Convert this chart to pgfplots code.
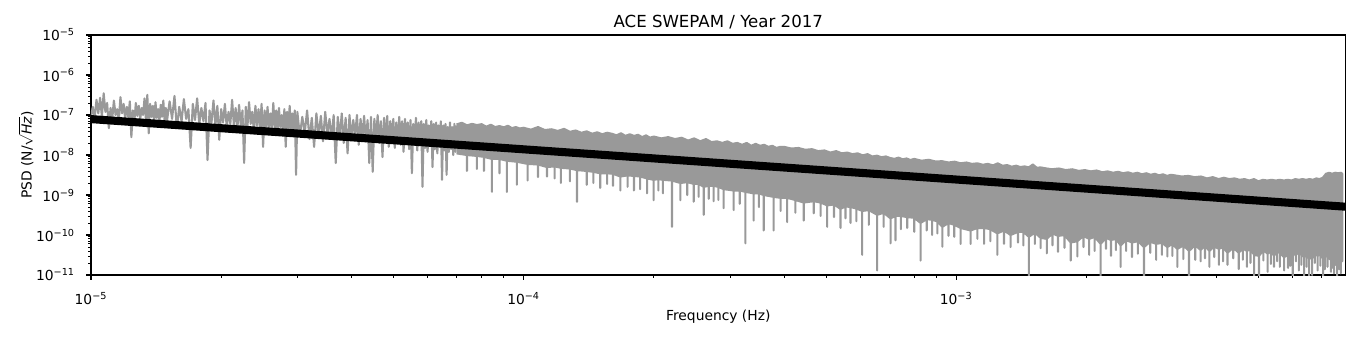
\documentclass[border=0pt]{standalone}
\usepackage{fontspec}
\setmainfont{DejaVu Sans}
\usepackage{pgfplots}
\pgfplotsset{compat=1.18}

\definecolor{psdgray}{RGB}{153,153,153}
\newcommand{\tlab}[1]{10\textsuperscript{−#1}}

\begin{document}
\begin{tikzpicture}
\useasboundingbox (-65.5bp,-45.4bp) rectangle (915.8bp,198bp);
\begin{axis}[
    at={(0,0)}, anchor=south west,
    scale only axis, width=903.3bp, height=172.8bp,
    xmode=log, ymode=log,
    xmin=1e-5, xmax=7.95e-3, ymin=1e-11, ymax=1e-5,
    xtick={1e-5,1e-4,1e-3},
    xticklabels={\tlab{5},\tlab{4},\tlab{3}},
    minor xtick={2e-5,3e-5,4e-5,5e-5,6e-5,7e-5,8e-5,9e-5,
                 2e-4,3e-4,4e-4,5e-4,6e-4,7e-4,8e-4,9e-4,
                 2e-3,3e-3,4e-3,5e-3,6e-3,7e-3},
    ytick={1e-11,1e-10,1e-9,1e-8,1e-7,1e-6,1e-5},
    yticklabels={\tlab{11},\tlab{10},\tlab{9},\tlab{8},\tlab{7},\tlab{6},\tlab{5}},
    minor ytick={2e-11,3e-11,4e-11,5e-11,6e-11,7e-11,8e-11,9e-11,
                 2e-10,3e-10,4e-10,5e-10,6e-10,7e-10,8e-10,9e-10,
                 2e-9,3e-9,4e-9,5e-9,6e-9,7e-9,8e-9,9e-9,
                 2e-8,3e-8,4e-8,5e-8,6e-8,7e-8,8e-8,9e-8,
                 2e-7,3e-7,4e-7,5e-7,6e-7,7e-7,8e-7,9e-7,
                 2e-6,3e-6,4e-6,5e-6,6e-6,7e-6,8e-6,9e-6},
    tick align=outside, tick pos=left,
    major tick length=3.5bp, minor tick length=2bp,
    every tick/.style={black, line width=0.8bp},
    every minor tick/.style={black, line width=0.6bp},
    axis line style={line width=0.8bp},
    xticklabel style={anchor=north, inner sep=0pt, yshift=-8.9bp},
    yticklabel style={anchor=east, inner sep=0pt, xshift=-7.9bp},
    title={ACE SWEPAM / Year 2017},
    every axis title/.style={at={(axis description cs:0.5,1.03125)}, anchor=base, font=\fontsize{12}{14}\selectfont},
    xlabel={Frequency (Hz)},
    xlabel style={at={(axis description cs:0.5,-0.1875)}, anchor=base},
    ylabel={PSD (N/$\sqrt{\textit{Hz}}$)},
    ylabel style={at={(axis description cs:-0.0473,0.5)}, anchor=base},
]

% low-frequency part, individual oscillations still visible
\addplot[psdgray, line width=1.5bp, line join=round] coordinates {
(1.00e-5,9.0e-8) (1.01e-5,1.6e-7) (1.02e-5,8.5e-8) (1.03e-5,2.4e-7) (1.04e-5,1.1e-7)
(1.05e-5,2.7e-7) (1.06e-5,9.0e-8) (1.07e-5,3.5e-7) (1.08e-5,1.2e-7) (1.09e-5,2.0e-7)
(1.10e-5,4.7e-8) (1.11e-5,1.5e-7) (1.12e-5,8.0e-8) (1.13e-5,2.3e-7) (1.14e-5,1.0e-7)
(1.15e-5,1.4e-7) (1.16e-5,7.5e-8) (1.17e-5,2.8e-7) (1.18e-5,1.1e-7) (1.19e-5,1.9e-7)
(1.20e-5,8.0e-8) (1.21e-5,1.6e-7) (1.22e-5,9.0e-8) (1.23e-5,2.2e-7) (1.24e-5,2.8e-8)
(1.25e-5,1.3e-7) (1.26e-5,7.0e-8) (1.27e-5,2.0e-7) (1.28e-5,9.5e-8) (1.29e-5,1.7e-7)
(1.30e-5,8.0e-8) (1.31e-5,1.5e-7) (1.32e-5,1.0e-7) (1.33e-5,2.6e-7) (1.34e-5,7.5e-8)
(1.35e-5,3.2e-7) (1.36e-5,3.5e-8) (1.37e-5,1.9e-7) (1.38e-5,9.0e-8) (1.39e-5,1.7e-7)
(1.40e-5,6.5e-8) (1.41e-5,2.1e-7) (1.42e-5,8.5e-8) (1.43e-5,1.4e-7) (1.44e-5,7.0e-8)
(1.45e-5,1.8e-7) (1.46e-5,9.0e-8) (1.47e-5,2.3e-7) (1.48e-5,7.0e-8) (1.49e-5,1.5e-7)
(1.50e-5,7.5e-8) (1.52e-5,2.2e-7) (1.54e-5,8.0e-8) (1.56e-5,3.0e-7) (1.58e-5,4.7e-8)
(1.60e-5,1.6e-7) (1.62e-5,7.0e-8) (1.64e-5,2.5e-7) (1.66e-5,8.0e-8) (1.68e-5,1.4e-7)
(1.70e-5,1.5e-8) (1.72e-5,1.9e-7) (1.74e-5,7.5e-8) (1.76e-5,2.6e-7) (1.78e-5,6.0e-8)
(1.80e-5,1.5e-7) (1.82e-5,7.0e-8) (1.84e-5,2.0e-7) (1.86e-5,7.5e-9) (1.88e-5,1.3e-7)
(1.90e-5,6.5e-8) (1.92e-5,2.3e-7) (1.94e-5,5.5e-8) (1.96e-5,1.7e-7) (1.98e-5,2.4e-8)
(2.00e-5,1.4e-7) (2.02e-5,6.5e-8) (2.04e-5,1.9e-7) (2.06e-5,5.0e-8) (2.08e-5,1.2e-7)
(2.10e-5,6.0e-8) (2.12e-5,2.4e-7) (2.14e-5,5.5e-8) (2.16e-5,1.5e-7) (2.18e-5,4.5e-8)
(2.20e-5,1.8e-7) (2.22e-5,5.5e-8) (2.24e-5,1.3e-7) (2.26e-5,6.3e-9) (2.28e-5,1.6e-7)
(2.30e-5,5.0e-8) (2.32e-5,2.1e-7) (2.34e-5,6.0e-8) (2.36e-5,1.2e-7) (2.38e-5,4.0e-8)
(2.40e-5,1.7e-7) (2.42e-5,5.5e-8) (2.44e-5,1.4e-7) (2.46e-5,4.5e-8) (2.48e-5,1.9e-7)
(2.50e-5,1.6e-8) (2.52e-5,1.3e-7) (2.54e-5,5.0e-8) (2.56e-5,1.6e-7) (2.58e-5,4.0e-8)
(2.60e-5,1.1e-7) (2.62e-5,5.0e-8) (2.64e-5,2.0e-7) (2.66e-5,4.5e-8) (2.68e-5,1.3e-7)
(2.70e-5,3.5e-8) (2.72e-5,1.5e-7) (2.74e-5,5.0e-8) (2.76e-5,1.0e-7) (2.78e-5,4.0e-8)
(2.80e-5,1.4e-7) (2.82e-5,1.6e-8) (2.84e-5,1.2e-7) (2.86e-5,4.5e-8) (2.88e-5,1.7e-7)
(2.90e-5,3.8e-8) (2.92e-5,1.1e-7) (2.94e-5,4.5e-8) (2.96e-5,1.3e-7) (2.98e-5,3.2e-9)
(3.00e-5,1.2e-7) (3.04e-5,3.0e-8) (3.08e-5,9.0e-8) (3.12e-5,3.5e-8) (3.16e-5,1.3e-7)
(3.20e-5,2.5e-8) (3.24e-5,8.5e-8) (3.28e-5,1.6e-8) (3.32e-5,1.1e-7) (3.36e-5,3.0e-8)
(3.40e-5,9.5e-8) (3.44e-5,2.2e-8) (3.48e-5,1.2e-7) (3.52e-5,3.2e-8) (3.56e-5,8.0e-8)
(3.60e-5,2.6e-8) (3.64e-5,1.0e-7) (3.68e-5,6.3e-9) (3.72e-5,9.0e-8) (3.76e-5,2.8e-8)
(3.80e-5,1.1e-7) (3.84e-5,2.0e-8) (3.88e-5,8.5e-8) (3.92e-5,1.1e-8) (3.96e-5,1.0e-7)
(4.00e-5,2.5e-8) (4.04e-5,7.5e-8) (4.08e-5,3.0e-8) (4.12e-5,1.0e-7) (4.16e-5,1.8e-8)
(4.20e-5,8.0e-8) (4.24e-5,2.6e-8) (4.28e-5,9.5e-8) (4.32e-5,2.2e-8) (4.36e-5,7.5e-8)
(4.40e-5,6.3e-9) (4.44e-5,9.0e-8) (4.48e-5,3.8e-9) (4.52e-5,8.0e-8) (4.56e-5,2.4e-8)
(4.60e-5,1.0e-7) (4.64e-5,2.0e-8) (4.68e-5,7.0e-8) (4.72e-5,8.9e-9) (4.76e-5,8.5e-8)
(4.80e-5,2.2e-8) (4.84e-5,9.5e-8) (4.88e-5,1.6e-8) (4.92e-5,7.0e-8) (4.96e-5,2.4e-8)
(5.00e-5,8.0e-8) (5.04e-5,1.5e-8) (5.08e-5,6.5e-8) (5.12e-5,2.2e-8) (5.16e-5,9.0e-8)
(5.20e-5,1.8e-8) (5.24e-5,7.0e-8) (5.28e-5,1.2e-8) (5.32e-5,8.0e-8) (5.36e-5,2.0e-8)
(5.40e-5,6.5e-8) (5.44e-5,1.4e-8) (5.48e-5,7.5e-8) (5.52e-5,3.5e-9) (5.56e-5,6.0e-8)
(5.60e-5,1.8e-8) (5.64e-5,8.5e-8) (5.68e-5,1.3e-8) (5.72e-5,6.5e-8) (5.76e-5,2.0e-8)
(5.80e-5,7.0e-8) (5.84e-5,1.6e-9) (5.88e-5,6.0e-8) (5.92e-5,1.5e-8) (5.96e-5,7.5e-8)
(6.00e-5,1.2e-8) (6.04e-5,5.5e-8) (6.08e-5,1.7e-8) (6.12e-5,7.0e-8) (6.16e-5,5.0e-9)
(6.20e-5,6.0e-8) (6.24e-5,1.4e-8) (6.28e-5,6.5e-8) (6.32e-5,1.1e-8) (6.36e-5,5.5e-8)
(6.40e-5,1.6e-8) (6.44e-5,7.0e-8) (6.48e-5,2.4e-9) (6.52e-5,5.5e-8) (6.56e-5,1.3e-8)
(6.60e-5,6.0e-8) (6.64e-5,3.2e-9) (6.68e-5,5.0e-8) (6.72e-5,1.2e-8) (6.76e-5,6.5e-8)
(6.80e-5,1.4e-8) (6.84e-5,5.0e-8) (6.88e-5,1.0e-8) (6.92e-5,6.0e-8) (6.96e-5,1.2e-8)
(7.00e-5,5.5e-8)
};

% dense part: upper envelope forward, then lower edge with its dips backward
\addplot[draw=psdgray, fill=psdgray, line width=1.5bp, line join=round] coordinates {
(7.0e-5,5.8e-8) (7.2e-5,6.4e-8) (7.4e-5,5.5e-8) (7.6e-5,6.0e-8) (7.8e-5,5.6e-8)
(8.0e-5,5.9e-8) (8.2e-5,5.1e-8) (8.4e-5,5.7e-8) (8.6e-5,5.0e-8) (8.8e-5,5.3e-8)
(9.0e-5,4.9e-8) (9.2e-5,5.4e-8) (9.4e-5,4.7e-8) (9.6e-5,5.0e-8) (9.8e-5,4.6e-8)
(1.00e-4,4.8e-8) (1.04e-4,4.3e-8) (1.08e-4,5.0e-8) (1.12e-4,4.2e-8) (1.16e-4,4.4e-8)
(1.20e-4,4.0e-8) (1.24e-4,4.5e-8) (1.28e-4,3.8e-8) (1.32e-4,4.1e-8) (1.36e-4,3.6e-8)
(1.40e-4,3.9e-8) (1.44e-4,3.4e-8) (1.48e-4,3.7e-8) (1.52e-4,3.3e-8) (1.56e-4,3.6e-8)
(1.60e-4,3.4e-8) (1.64e-4,3.1e-8) (1.68e-4,3.5e-8) (1.72e-4,3.0e-8) (1.76e-4,3.3e-8)
(1.80e-4,3.0e-8) (1.84e-4,3.2e-8) (1.88e-4,2.8e-8) (1.92e-4,3.1e-8) (1.96e-4,2.7e-8)
(2.00e-4,2.9e-8) (2.08e-4,2.6e-8) (2.16e-4,2.8e-8) (2.24e-4,2.5e-8) (2.32e-4,2.7e-8)
(2.40e-4,2.3e-8) (2.48e-4,2.6e-8) (2.56e-4,2.2e-8) (2.64e-4,2.5e-8) (2.72e-4,2.1e-8)
(2.80e-4,2.2e-8) (2.88e-4,2.0e-8) (2.96e-4,2.2e-8) (3.04e-4,1.9e-8) (3.12e-4,2.0e-8)
(3.20e-4,1.8e-8) (3.28e-4,2.0e-8) (3.36e-4,1.7e-8) (3.44e-4,1.9e-8) (3.52e-4,1.7e-8)
(3.60e-4,1.8e-8) (3.68e-4,1.6e-8) (3.76e-4,1.7e-8) (3.84e-4,1.5e-8) (3.92e-4,1.6e-8)
(4.00e-4,1.6e-8) (4.16e-4,1.45e-8) (4.32e-4,1.5e-8) (4.48e-4,1.35e-8) (4.64e-4,1.4e-8)
(4.80e-4,1.25e-8) (4.96e-4,1.3e-8) (5.12e-4,1.15e-8) (5.28e-4,1.25e-8) (5.44e-4,1.1e-8)
(5.60e-4,1.15e-8) (5.76e-4,1.05e-8) (5.92e-4,1.1e-8) (6.08e-4,9.8e-9) (6.24e-4,1.05e-8)
(6.40e-4,9.2e-9) (6.56e-4,9.6e-9) (6.72e-4,8.8e-9) (6.88e-4,9.2e-9) (7.04e-4,8.4e-9)
(7.20e-4,8.0e-9) (7.36e-4,8.6e-9) (7.52e-4,7.8e-9) (7.68e-4,8.2e-9) (7.84e-4,7.5e-9)
(8.00e-4,8.0e-9) (8.32e-4,7.2e-9) (8.64e-4,7.6e-9) (8.96e-4,6.9e-9) (9.28e-4,7.0e-9)
(9.60e-4,6.5e-9) (9.92e-4,6.8e-9) (1.024e-3,6.2e-9) (1.056e-3,6.5e-9) (1.088e-3,6.0e-9)
(1.120e-3,6.2e-9) (1.152e-3,5.7e-9) (1.184e-3,6.0e-9) (1.216e-3,5.5e-9) (1.248e-3,6.2e-9)
(1.280e-3,5.4e-9) (1.312e-3,5.6e-9) (1.344e-3,5.1e-9) (1.376e-3,5.4e-9) (1.408e-3,5.0e-9)
(1.440e-3,5.2e-9) (1.472e-3,4.9e-9) (1.504e-3,5.8e-9) (1.536e-3,4.8e-9) (1.568e-3,4.9e-9)
(1.600e-3,4.7e-9) (1.664e-3,4.4e-9) (1.728e-3,4.6e-9) (1.792e-3,4.2e-9) (1.856e-3,4.4e-9)
(1.920e-3,4.0e-9) (1.984e-3,4.2e-9) (2.048e-3,3.9e-9) (2.112e-3,4.1e-9) (2.176e-3,3.7e-9)
(2.240e-3,3.9e-9) (2.304e-3,3.6e-9) (2.368e-3,3.8e-9) (2.432e-3,3.5e-9) (2.496e-3,3.7e-9)
(2.560e-3,3.4e-9) (2.624e-3,3.6e-9) (2.688e-3,3.3e-9) (2.752e-3,3.5e-9) (2.816e-3,3.2e-9)
(2.880e-3,3.4e-9) (2.944e-3,3.1e-9) (3.008e-3,3.3e-9) (3.072e-3,3.0e-9) (3.136e-3,3.2e-9)
(3.20e-3,3.1e-9) (3.32e-3,2.9e-9) (3.44e-3,3.0e-9) (3.56e-3,2.8e-9) (3.68e-3,2.9e-9)
(3.80e-3,2.6e-9) (3.92e-3,2.8e-9) (4.04e-3,2.5e-9) (4.16e-3,2.7e-9) (4.28e-3,2.5e-9)
(4.40e-3,2.6e-9) (4.52e-3,2.4e-9) (4.64e-3,2.5e-9) (4.76e-3,2.3e-9) (4.88e-3,2.5e-9)
(5.00e-3,2.2e-9) (5.12e-3,2.4e-9) (5.24e-3,2.3e-9) (5.36e-3,2.4e-9) (5.48e-3,2.3e-9)
(5.60e-3,2.4e-9) (5.72e-3,2.3e-9) (5.84e-3,2.4e-9) (5.96e-3,2.3e-9) (6.08e-3,2.5e-9)
(6.20e-3,2.4e-9) (6.32e-3,2.5e-9) (6.44e-3,2.4e-9) (6.56e-3,2.5e-9) (6.68e-3,2.4e-9)
(6.80e-3,2.6e-9) (6.92e-3,2.5e-9) (7.04e-3,2.7e-9) (7.16e-3,3.4e-9) (7.28e-3,3.6e-9)
(7.40e-3,3.4e-9) (7.52e-3,3.6e-9) (7.64e-3,3.5e-9) (7.76e-3,3.6e-9) (7.81e-3,3.4e-9)
(7.81e-3,2.2e-11)
(7.75e-3,2.2e-11) (7.75e-3,1.1e-11) (7.75e-3,2.2e-11)
(7.68e-3,3.0e-11) (7.68e-3,1.4e-11) (7.68e-3,3.0e-11)
(7.60e-3,2.6e-11) (7.60e-3,9e-12) (7.60e-3,2.6e-11)
(7.54e-3,3.2e-11) (7.54e-3,1.8e-11) (7.54e-3,3.2e-11)
(7.475e-3,2.5e-11) (7.475e-3,1.1e-11) (7.475e-3,2.5e-11)
(7.40e-3,3.0e-11) (7.40e-3,1.5e-11) (7.40e-3,3.0e-11)
(7.35e-3,2.4e-11) (7.35e-3,1.2e-11) (7.35e-3,2.4e-11)
(7.218e-3,2.8e-11) (7.218e-3,1.6e-11) (7.218e-3,2.8e-11)
(7.12e-3,3.2e-11) (7.12e-3,1.4e-11) (7.12e-3,3.2e-11)
(7.05e-3,2.6e-11) (7.05e-3,8e-12) (7.05e-3,2.6e-11)
(6.95e-3,3.4e-11) (6.95e-3,1.7e-11) (6.95e-3,3.4e-11)
(6.85e-3,3.0e-11) (6.85e-3,1.3e-11) (6.85e-3,3.0e-11)
(6.75e-3,3.4e-11) (6.75e-3,2.0e-11) (6.75e-3,3.4e-11)
(6.65e-3,2.6e-11) (6.65e-3,1.0e-11) (6.65e-3,2.6e-11)
(6.545e-3,2.6e-11) (6.545e-3,5e-12) (6.545e-3,2.6e-11)
(6.46e-3,3.4e-11) (6.46e-3,1.6e-11) (6.46e-3,3.4e-11)
(6.373e-3,2.8e-11) (6.373e-3,5e-12) (6.373e-3,2.8e-11)
(6.28e-3,3.6e-11) (6.28e-3,1.8e-11) (6.28e-3,3.6e-11)
(6.20e-3,3.2e-11) (6.20e-3,1.3e-11) (6.20e-3,3.2e-11)
(6.10e-3,3.8e-11) (6.10e-3,2.2e-11) (6.10e-3,3.8e-11)
(6.00e-3,3.0e-11) (6.00e-3,9e-12) (6.00e-3,3.0e-11)
(5.92e-3,3.6e-11) (5.92e-3,1.7e-11) (5.92e-3,3.6e-11)
(5.85e-3,3.2e-11) (5.85e-3,1.5e-11) (5.85e-3,3.2e-11)
(5.728e-3,2.8e-11) (5.728e-3,1.3e-11) (5.728e-3,2.8e-11)
(5.60e-3,3.5e-11) (5.60e-3,1.6e-11) (5.60e-3,3.5e-11)
(5.52e-3,4.0e-11) (5.52e-3,2.2e-11) (5.52e-3,4.0e-11)
(5.43e-3,3.0e-11) (5.43e-3,1.6e-11) (5.43e-3,3.0e-11)
(5.34e-3,4.0e-11) (5.34e-3,1.9e-11) (5.34e-3,4.0e-11)
(5.25e-3,3.4e-11) (5.25e-3,1.2e-11) (5.25e-3,3.4e-11)
(5.13e-3,4.2e-11) (5.13e-3,2.3e-11) (5.13e-3,4.2e-11)
(5.013e-3,3.0e-11) (5.013e-3,5e-12) (5.013e-3,3.0e-11)
(4.884e-3,3.2e-11) (4.884e-3,5e-12) (4.884e-3,3.2e-11)
(4.79e-3,4.4e-11) (4.79e-3,2.0e-11) (4.79e-3,4.4e-11)
(4.70e-3,4.0e-11) (4.70e-3,1.6e-11) (4.70e-3,4.0e-11)
(4.60e-3,4.6e-11) (4.60e-3,2.4e-11) (4.60e-3,4.6e-11)
(4.50e-3,3.6e-11) (4.50e-3,1.4e-11) (4.50e-3,3.6e-11)
(4.37e-3,4.8e-11) (4.37e-3,2.6e-11) (4.37e-3,4.8e-11)
(4.238e-3,3.6e-11) (4.238e-3,1.8e-11) (4.238e-3,3.6e-11)
(4.14e-3,5.0e-11) (4.14e-3,2.2e-11) (4.14e-3,5.0e-11)
(4.05e-3,4.5e-11) (4.05e-3,1.8e-11) (4.05e-3,4.5e-11)
(3.95e-3,5.2e-11) (3.95e-3,2.8e-11) (3.95e-3,5.2e-11)
(3.85e-3,4.0e-11) (3.85e-3,1.6e-11) (3.85e-3,4.0e-11)
(3.76e-3,5.4e-11) (3.76e-3,2.6e-11) (3.76e-3,5.4e-11)
(3.675e-3,4.2e-11) (3.675e-3,2.2e-11) (3.675e-3,4.2e-11)
(3.57e-3,5.6e-11) (3.57e-3,2.4e-11) (3.57e-3,5.6e-11)
(3.454e-3,4.0e-11) (3.454e-3,5e-12) (3.454e-3,4.0e-11)
(3.35e-3,5.5e-11) (3.35e-3,2.5e-11) (3.35e-3,5.5e-11)
(3.246e-3,4.5e-11) (3.246e-3,1.6e-11) (3.246e-3,4.5e-11)
(3.16e-3,6.0e-11) (3.16e-3,3.0e-11) (3.16e-3,6.0e-11)
(3.078e-3,5.0e-11) (3.078e-3,2.9e-11) (3.078e-3,5.0e-11)
(2.99e-3,6.4e-11) (2.99e-3,3.2e-11) (2.99e-3,6.4e-11)
(2.90e-3,6.0e-11) (2.90e-3,2.4e-11) (2.90e-3,6.0e-11)
(2.81e-3,6.8e-11) (2.81e-3,3.6e-11) (2.81e-3,6.8e-11)
(2.718e-3,5.0e-11) (2.718e-3,5e-12) (2.718e-3,5.0e-11)
(2.63e-3,7.0e-11) (2.63e-3,3.4e-11) (2.63e-3,7.0e-11)
(2.55e-3,6.5e-11) (2.55e-3,2.8e-11) (2.55e-3,6.5e-11)
(2.47e-3,7.5e-11) (2.47e-3,4.0e-11) (2.47e-3,7.5e-11)
(2.40e-3,5.5e-11) (2.40e-3,1.6e-11) (2.40e-3,5.5e-11)
(2.34e-3,8.0e-11) (2.34e-3,4.2e-11) (2.34e-3,8.0e-11)
(2.28e-3,7.5e-11) (2.28e-3,3.0e-11) (2.28e-3,7.5e-11)
(2.22e-3,8.5e-11) (2.22e-3,4.5e-11) (2.22e-3,8.5e-11)
(2.158e-3,6.0e-11) (2.158e-3,5e-12) (2.158e-3,6.0e-11)
(2.09e-3,9.0e-11) (2.09e-3,4.0e-11) (2.09e-3,9.0e-11)
(2.03e-3,8.0e-11) (2.03e-3,3.2e-11) (2.03e-3,8.0e-11)
(1.97e-3,9.5e-11) (1.97e-3,5.0e-11) (1.97e-3,9.5e-11)
(1.906e-3,7.0e-11) (1.906e-3,2.9e-11) (1.906e-3,7.0e-11)
(1.84e-3,6.5e-11) (1.84e-3,2.3e-11) (1.84e-3,6.5e-11)
(1.78e-3,1.0e-10) (1.78e-3,4.8e-11) (1.78e-3,1.0e-10)
(1.72e-3,9.5e-11) (1.72e-3,3.8e-11) (1.72e-3,9.5e-11)
(1.67e-3,1.1e-10) (1.67e-3,5.5e-11) (1.67e-3,1.1e-10)
(1.62e-3,8.0e-11) (1.62e-3,3.5e-11) (1.62e-3,8.0e-11)
(1.568e-3,8.5e-11) (1.568e-3,4.7e-11) (1.568e-3,8.5e-11)
(1.52e-3,1.15e-10) (1.52e-3,6.0e-11) (1.52e-3,1.15e-10)
(1.473e-3,9.0e-11) (1.473e-3,5e-12) (1.473e-3,9.0e-11)
(1.43e-3,1.2e-10) (1.43e-3,5.5e-11) (1.43e-3,1.2e-10)
(1.39e-3,1.2e-10) (1.39e-3,6.5e-11) (1.39e-3,1.2e-10)
(1.336e-3,1.0e-10) (1.336e-3,5.0e-11) (1.336e-3,1.0e-10)
(1.29e-3,1.3e-10) (1.29e-3,6.0e-11) (1.29e-3,1.3e-10)
(1.245e-3,1.1e-10) (1.245e-3,3.2e-11) (1.245e-3,1.1e-10)
(1.20e-3,1.4e-10) (1.20e-3,7.0e-11) (1.20e-3,1.4e-10)
(1.16e-3,1.5e-10) (1.16e-3,6.0e-11) (1.16e-3,1.5e-10)
(1.12e-3,1.5e-10) (1.12e-3,8.0e-11) (1.12e-3,1.5e-10)
(1.08e-3,1.3e-10) (1.08e-3,6.0e-11) (1.08e-3,1.3e-10)
(1.024e-3,1.5e-10) (1.024e-3,6.0e-11) (1.024e-3,1.5e-10)
(9.9e-4,1.8e-10) (9.9e-4,9.0e-11) (9.9e-4,1.8e-10)
(9.6e-4,2.0e-10) (9.6e-4,9.5e-11) (9.6e-4,2.0e-10)
(9.29e-4,1.6e-10) (9.29e-4,5.1e-11) (9.29e-4,1.6e-10)
(9.05e-4,2.2e-10) (9.05e-4,1.1e-10) (9.05e-4,2.2e-10)
(8.8e-4,2.4e-10) (8.8e-4,1.0e-10) (8.8e-4,2.4e-10)
(8.55e-4,2.5e-10) (8.55e-4,1.3e-10) (8.55e-4,2.5e-10)
(8.275e-4,2.0e-10) (8.275e-4,2.3e-11) (8.275e-4,2.0e-10)
(8.0e-4,2.7e-10) (8.0e-4,1.2e-10) (8.0e-4,2.7e-10)
(7.708e-4,2.8e-10) (7.708e-4,1.5e-10) (7.708e-4,2.8e-10)
(7.45e-4,3.0e-10) (7.45e-4,1.4e-10) (7.45e-4,3.0e-10)
(7.242e-4,3.0e-10) (7.242e-4,7.4e-11) (7.242e-4,3.0e-10)
(7.053e-4,2.6e-10) (7.053e-4,6.2e-11) (7.053e-4,2.6e-10)
(6.8e-4,3.6e-10) (6.8e-4,1.6e-10) (6.8e-4,3.6e-10)
(6.569e-4,3.2e-10) (6.569e-4,1.3e-11) (6.569e-4,3.2e-10)
(6.282e-4,4.2e-10) (6.282e-4,1.8e-10) (6.282e-4,4.2e-10)
(6.065e-4,4.0e-10) (6.065e-4,3.2e-11) (6.065e-4,4.0e-10)
(5.88e-4,4.6e-10) (5.88e-4,2.2e-10) (5.88e-4,4.6e-10)
(5.7e-4,5.0e-10) (5.7e-4,2.0e-10) (5.7e-4,5.0e-10)
(5.55e-4,5.2e-10) (5.55e-4,2.6e-10) (5.55e-4,5.2e-10)
(5.404e-4,4.5e-10) (5.404e-4,1.5e-10) (5.404e-4,4.5e-10)
(5.22e-4,5.8e-10) (5.22e-4,2.8e-10) (5.22e-4,5.8e-10)
(5.034e-4,5.5e-10) (5.034e-4,1.6e-10) (5.034e-4,5.5e-10)
(4.86e-4,6.5e-10) (4.86e-4,3.0e-10) (4.86e-4,6.5e-10)
(4.687e-4,7.0e-10) (4.687e-4,3.5e-10) (4.687e-4,7.0e-10)
(4.443e-4,6.5e-10) (4.443e-4,2.3e-10) (4.443e-4,6.5e-10)
(4.25e-4,7.5e-10) (4.25e-4,3.6e-10) (4.25e-4,7.5e-10)
(4.068e-4,8.5e-10) (4.068e-4,2.1e-10) (4.068e-4,8.5e-10)
(3.93e-4,8.5e-10) (3.93e-4,4.0e-10) (3.93e-4,8.5e-10)
(3.787e-4,9.0e-10) (3.787e-4,1.3e-10) (3.787e-4,9.0e-10)
(3.591e-4,1.0e-9) (3.591e-4,1.3e-10) (3.591e-4,1.0e-9)
(3.50e-4,1.1e-9) (3.50e-4,5.0e-10) (3.50e-4,1.1e-9)
(3.404e-4,1.1e-9) (3.404e-4,2.3e-10) (3.404e-4,1.1e-9)
(3.257e-4,1.2e-9) (3.257e-4,6.2e-11) (3.257e-4,1.2e-9)
(3.16e-4,1.3e-9) (3.16e-4,6.0e-10) (3.16e-4,1.3e-9)
(3.060e-4,1.3e-9) (3.060e-4,4.2e-10) (3.060e-4,1.3e-9)
(2.901e-4,1.4e-9) (2.901e-4,4.7e-10) (2.901e-4,1.4e-9)
(2.82e-4,1.6e-9) (2.82e-4,7.5e-10) (2.82e-4,1.6e-9)
(2.75e-4,1.7e-9) (2.75e-4,7.0e-10) (2.75e-4,1.7e-9)
(2.68e-4,1.7e-9) (2.68e-4,8.0e-10) (2.68e-4,1.7e-9)
(2.609e-4,1.6e-9) (2.609e-4,3.2e-10) (2.609e-4,1.6e-9)
(2.54e-4,1.9e-9) (2.54e-4,9.0e-10) (2.54e-4,1.9e-9)
(2.474e-4,1.9e-9) (2.474e-4,6.8e-10) (2.474e-4,1.9e-9)
(2.39e-4,2.1e-9) (2.39e-4,1.0e-9) (2.39e-4,2.1e-9)
(2.304e-4,2.0e-9) (2.304e-4,7.4e-10) (2.304e-4,2.0e-9)
(2.204e-4,2.3e-9) (2.204e-4,1.6e-10) (2.204e-4,2.3e-9)
(2.10e-4,2.4e-9) (2.10e-4,1.1e-9) (2.10e-4,2.4e-9)
(2.05e-4,2.5e-9) (2.05e-4,1.3e-9) (2.05e-4,2.5e-9)
(1.999e-4,2.4e-9) (1.999e-4,7.4e-10) (1.999e-4,2.4e-9)
(1.930e-4,2.6e-9) (1.930e-4,1.1e-9) (1.930e-4,2.6e-9)
(1.86e-4,2.9e-9) (1.86e-4,1.4e-9) (1.86e-4,2.9e-9)
(1.80e-4,3.0e-9) (1.80e-4,1.3e-9) (1.80e-4,3.0e-9)
(1.74e-4,3.1e-9) (1.74e-4,1.6e-9) (1.74e-4,3.1e-9)
(1.674e-4,2.9e-9) (1.674e-4,1.3e-9) (1.674e-4,2.9e-9)
(1.61e-4,3.4e-9) (1.61e-4,1.7e-9) (1.61e-4,3.4e-9)
(1.56e-4,3.5e-9) (1.56e-4,1.9e-9) (1.56e-4,3.5e-9)
(1.504e-4,3.5e-9) (1.504e-4,1.5e-9) (1.504e-4,3.5e-9)
(1.45e-4,3.8e-9) (1.45e-4,2.0e-9) (1.45e-4,3.8e-9)
(1.40e-4,4.0e-9) (1.40e-4,1.8e-9) (1.40e-4,4.0e-9)
(1.329e-4,4.2e-9) (1.329e-4,6.8e-10) (1.329e-4,4.2e-9)
(1.28e-4,4.6e-9) (1.28e-4,2.2e-9) (1.28e-4,4.6e-9)
(1.22e-4,4.8e-9) (1.22e-4,2.0e-9) (1.22e-4,4.8e-9)
(1.18e-4,5.2e-9) (1.18e-4,2.6e-9) (1.18e-4,5.2e-9)
(1.133e-4,5.0e-9) (1.133e-4,2.9e-9) (1.133e-4,5.0e-9)
(1.08e-4,5.8e-9) (1.08e-4,2.8e-9) (1.08e-4,5.8e-9)
(1.022e-4,6.0e-9) (1.022e-4,2.3e-9) (1.022e-4,6.0e-9)
(9.65e-5,6.8e-9) (9.65e-5,1.8e-9) (9.65e-5,6.8e-9)
(9.15e-5,7.2e-9) (9.15e-5,1.2e-9) (9.15e-5,7.2e-9)
(8.8e-5,8.0e-9) (8.8e-5,3.5e-9) (8.8e-5,8.0e-9)
(8.45e-5,8.0e-9) (8.45e-5,1.2e-9) (8.45e-5,8.0e-9)
(8.1e-5,9.0e-9) (8.1e-5,4.0e-9) (8.1e-5,9.0e-9)
(7.8e-5,9.5e-9) (7.8e-5,4.5e-9) (7.8e-5,9.5e-9)
(7.4e-5,1.0e-8) (7.4e-5,4.0e-9) (7.4e-5,1.0e-8)
(7.0e-5,1.1e-8)
};

% power-law fit
\addplot[black, line width=5.8bp] coordinates {(1e-5,7.9e-8) (7.95e-3,5.1e-10)};

\end{axis}
\end{tikzpicture}
\end{document}
